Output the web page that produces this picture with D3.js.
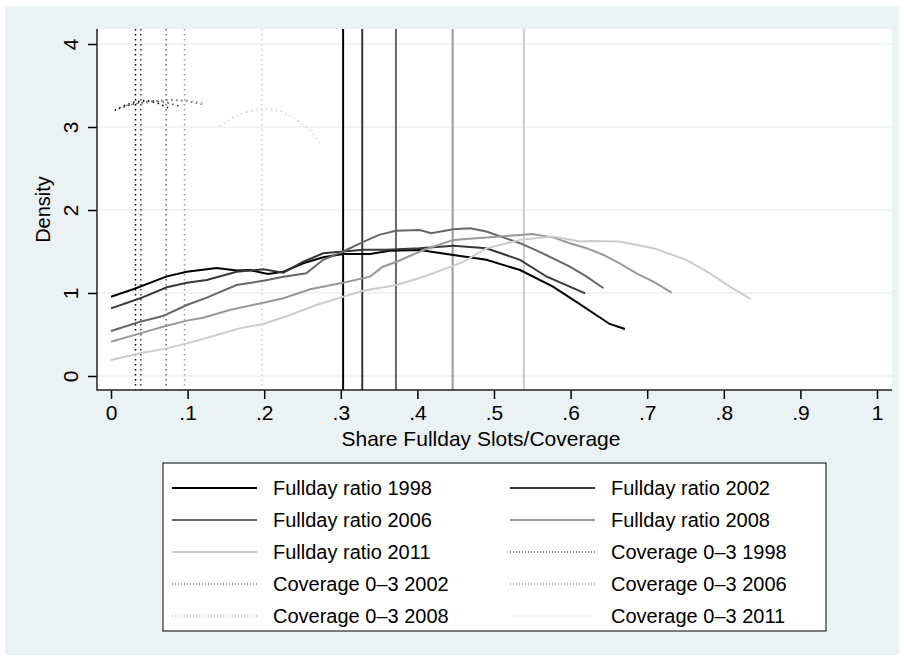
<!DOCTYPE html>
<html>
<head>
<meta charset="utf-8">
<script src="https://cdn.jsdelivr.net/npm/d3@7"></script>
<style>
  body { margin: 0; background: #fff; }
  text { font-family: "Liberation Sans", Arial, sans-serif; fill: #000; }
</style>
</head>
<body>
<script>
// kernel densities of the fullday share, one per year
var fd1998 = [[0,0.955],[0.029,1.045],[0.073,1.20],[0.099,1.257],[0.138,1.30],[0.164,1.27],[0.181,1.277],[0.205,1.23],[0.225,1.257],[0.251,1.358],[0.277,1.43],[0.303,1.47],[0.338,1.47],[0.364,1.51],[0.403,1.518],[0.447,1.458],[0.49,1.40],[0.534,1.277],[0.577,1.076],[0.612,0.867],[0.651,0.627],[0.671,0.566]]
var fd2002 = [[0,0.815],[0.038,0.936],[0.073,1.069],[0.099,1.124],[0.125,1.157],[0.164,1.257],[0.199,1.285],[0.225,1.245],[0.251,1.377],[0.277,1.478],[0.303,1.50],[0.33,1.52],[0.36,1.52],[0.403,1.538],[0.447,1.57],[0.49,1.538],[0.534,1.40],[0.569,1.196],[0.619,0.996]]
var fd2006 = [[0,0.542],[0.038,0.654],[0.068,0.723],[0.099,0.855],[0.125,0.944],[0.164,1.096],[0.199,1.148],[0.225,1.197],[0.255,1.237],[0.277,1.40],[0.303,1.50],[0.33,1.62],[0.35,1.70],[0.372,1.75],[0.403,1.76],[0.418,1.72],[0.447,1.767],[0.469,1.78],[0.49,1.74],[0.512,1.67],[0.534,1.60],[0.556,1.51],[0.577,1.418],[0.599,1.317],[0.621,1.197],[0.643,1.057]]
var fd2008 = [[0,0.413],[0.038,0.514],[0.068,0.594],[0.099,0.667],[0.12,0.703],[0.155,0.795],[0.199,0.883],[0.225,0.936],[0.26,1.045],[0.303,1.124],[0.338,1.197],[0.355,1.317],[0.373,1.377],[0.408,1.518],[0.447,1.64],[0.49,1.67],[0.534,1.70],[0.55,1.71],[0.577,1.67],[0.599,1.60],[0.621,1.54],[0.643,1.458],[0.664,1.358],[0.686,1.237],[0.708,1.136],[0.732,1.004]]
var fd2011 = [[0,0.193],[0.038,0.273],[0.073,0.333],[0.099,0.393],[0.138,0.494],[0.168,0.574],[0.199,0.627],[0.234,0.735],[0.268,0.855],[0.303,0.955],[0.329,1.028],[0.373,1.096],[0.408,1.196],[0.458,1.365],[0.49,1.538],[0.534,1.64],[0.577,1.68],[0.612,1.62],[0.629,1.626],[0.664,1.62],[0.708,1.54],[0.751,1.40],[0.782,1.237],[0.808,1.076],[0.835,0.928]]

// coverage 0-3 densities (only the part that shows in the frame)
var cov1998 = [[0.005,3.20],[0.015,3.25],[0.03,3.30],[0.045,3.32],[0.06,3.29],[0.075,3.23]]
var cov2002 = [[0.01,3.22],[0.03,3.28],[0.05,3.32],[0.07,3.30],[0.09,3.25]]
var cov2006 = [[0.02,3.26],[0.05,3.31],[0.08,3.33],[0.10,3.31],[0.12,3.27]]
var cov2008 = [[0.04,3.28],[0.07,3.32],[0.10,3.32],[0.123,3.29]]
var cov2011 = [[0.142,3.01],[0.16,3.12],[0.18,3.19],[0.20,3.22],[0.22,3.20],[0.24,3.10],[0.26,2.96],[0.275,2.78]]

var years = ['1998', '2002', '2006', '2008', '2011']
var fulldayMeans = [0.303, 0.328, 0.372, 0.446, 0.539]
var coverageMeans = [0.032, 0.039, 0.072, 0.096, 0.197]
var xTicks = [0, .1, .2, .3, .4, .5, .6, .7, .8, .9, 1]
var yTicks = [0, 1, 2, 3, 4]

var fulldaySeries = [fd1998, fd2002, fd2006, fd2008, fd2011]
var coverageSeries = [cov1998, cov2002, cov2006, cov2008, cov2011]
var greys = ['#000000', '#383838', '#676767', '#999999', '#cccccc']

var W = 904, H = 659
var plot = {left: 97, right: 892, top: 29, bottom: 390}

var svg = d3.select('body').append('svg').attr('width', W).attr('height', H)

svg.append('rect').attr('x', 5).attr('y', 6).attr('width', 894).attr('height', 649).attr('fill', '#eaf2f3')
svg.append('rect').attr('x', plot.left).attr('y', plot.top)
  .attr('width', plot.right - plot.left).attr('height', plot.bottom - plot.top).attr('fill', '#fff')

var x = d3.scaleLinear().domain([0, 1]).range([111, 877])
var y = d3.scaleLinear().domain([0, 4]).range([376, 44])

// grid
svg.append('g').selectAll('line').data(yTicks).join('line')
  .attr('x1', plot.left).attr('x2', plot.right)
  .attr('y1', d => y(d)).attr('y2', d => y(d))
  .attr('stroke', '#eaf2f3').attr('stroke-width', 1.5)

var line = d3.line().x(d => x(d[0])).y(d => y(d[1]))

// vertical mean lines
svg.append('g').selectAll('line').data(fulldayMeans).join('line')
  .attr('x1', d => x(d)).attr('x2', d => x(d))
  .attr('y1', plot.top).attr('y2', plot.bottom)
  .attr('stroke', (d, i) => greys[i]).attr('stroke-width', 2)

svg.append('g').selectAll('line').data(coverageMeans).join('line')
  .attr('x1', d => x(d)).attr('x2', d => x(d))
  .attr('y1', plot.top).attr('y2', plot.bottom)
  .attr('stroke', (d, i) => greys[i]).attr('stroke-width', 1.5)
  .attr('stroke-dasharray', '1.5,3.5')

svg.append('g').selectAll('path').data(coverageSeries).join('path')
  .attr('d', line).attr('fill', 'none')
  .attr('stroke', (d, i) => greys[i]).attr('stroke-width', 1.5)
  .attr('stroke-dasharray', '1.5,3.5')

svg.append('g').selectAll('path').data(fulldaySeries).join('path')
  .attr('d', line).attr('fill', 'none')
  .attr('stroke', (d, i) => greys[i]).attr('stroke-width', 2)

// axes
var fmt = d => (d === 0 || d === 1) ? String(d) : d3.format('.1f')(d).replace(/^0/, '')

var xAxis = svg.append('g').attr('transform', 'translate(0,' + plot.bottom + ')')
  .call(d3.axisBottom(x).tickValues(xTicks).tickFormat(fmt).tickSize(9).tickPadding(6).tickSizeOuter(0))
xAxis.select('.domain').remove()
xAxis.selectAll('line').attr('stroke', '#000').attr('stroke-width', 1.5)
xAxis.selectAll('text').style('font-size', '21px')

var yAxis = svg.append('g').attr('transform', 'translate(' + plot.left + ',0)')
  .call(d3.axisLeft(y).tickValues(yTicks).tickFormat(d3.format('d')).tickSize(9).tickSizeOuter(0))
yAxis.select('.domain').remove()
yAxis.selectAll('line').attr('stroke', '#000').attr('stroke-width', 1.5)
yAxis.selectAll('text')
  .attr('x', null).attr('dy', null)
  .attr('transform', 'translate(-19,0) rotate(-90)')
  .style('text-anchor', 'middle').style('font-size', '21px')

svg.append('line').attr('x1', plot.left).attr('x2', plot.left).attr('y1', plot.top).attr('y2', plot.bottom + 0.75)
  .attr('stroke', '#222').attr('stroke-width', 1.5)
svg.append('line').attr('x1', plot.left).attr('x2', plot.right).attr('y1', plot.bottom).attr('y2', plot.bottom)
  .attr('stroke', '#222').attr('stroke-width', 1.5)

svg.append('text').attr('transform', 'translate(50,' + ((plot.top + plot.bottom) / 2) + ') rotate(-90)')
  .style('text-anchor', 'middle').style('font-size', '20px').text('Density')

svg.append('text').attr('x', 481).attr('y', 446)
  .style('text-anchor', 'middle').style('font-size', '21px').text('Share Fullday Slots/Coverage')

// legend
var legendItems = []
years.forEach((yr, i) => legendItems.push({label: 'Fullday ratio ' + yr, color: greys[i], dotted: false}))
years.forEach((yr, i) => legendItems.push({label: 'Coverage 0\u20133 ' + yr, color: greys[i], dotted: true}))

var lg = svg.append('g')
lg.append('rect').attr('x', 163).attr('y', 463).attr('width', 663).attr('height', 168)
  .attr('fill', '#fff').attr('stroke', '#000').attr('stroke-width', 1)

var item = lg.selectAll('g.item').data(legendItems).join('g')
  .attr('transform', (d, i) => 'translate(' + (i % 2 ? 510 : 172) + ',' + (488 + 32 * Math.floor(i / 2)) + ')')

item.append('line').attr('x1', 0).attr('x2', 85).attr('y1', 0).attr('y2', 0)
  .attr('stroke', d => d.color).attr('stroke-width', d => d.dotted ? 1 : 2)
  .attr('stroke-dasharray', d => d.dotted ? '1,2' : null)

item.append('text').attr('x', 101).attr('y', 7).style('font-size', '20px').text(d => d.label)
</script>
</body>
</html>
